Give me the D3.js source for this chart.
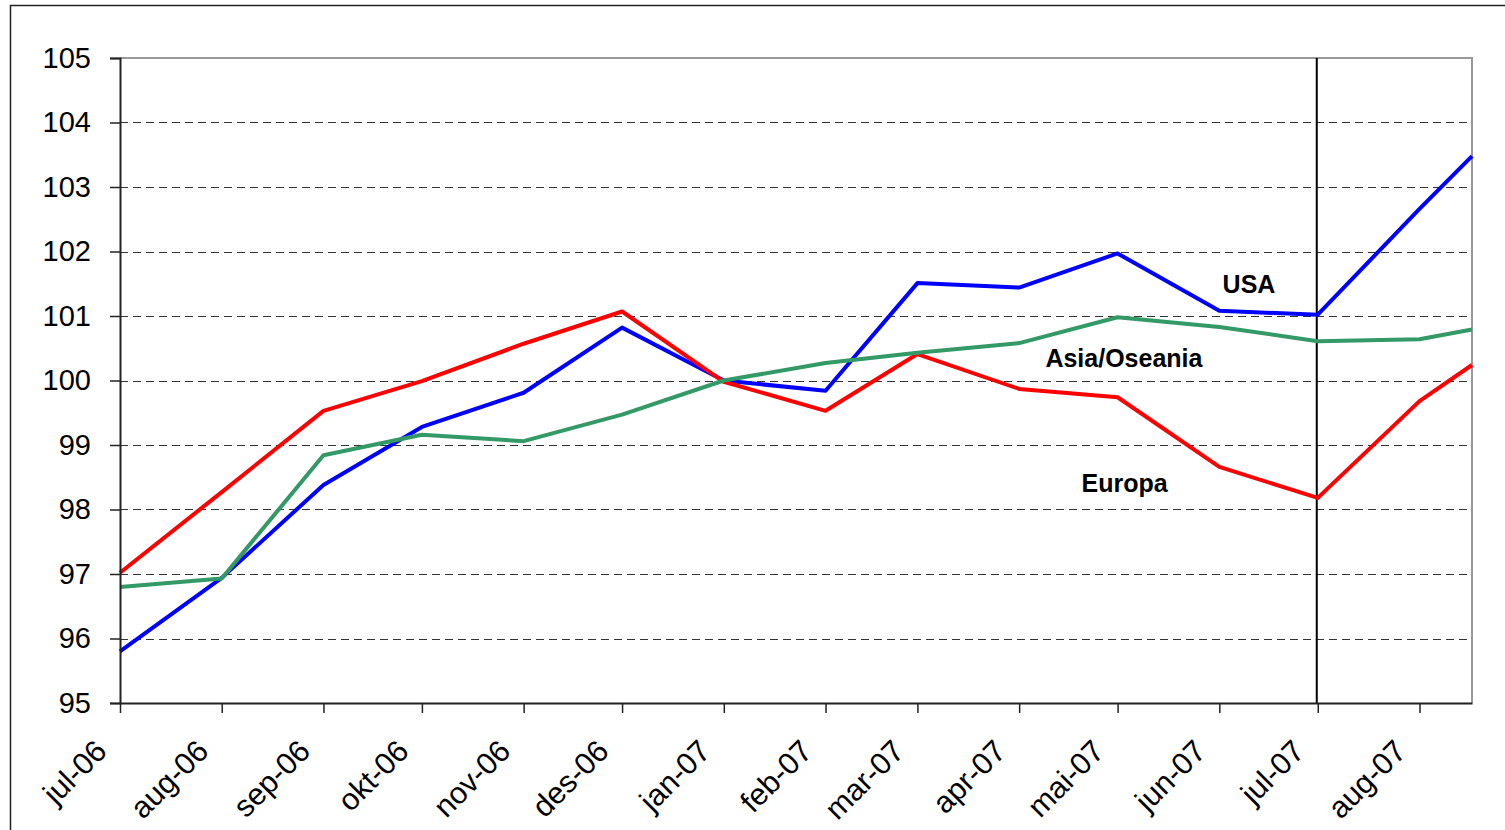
<!DOCTYPE html>
<html>
<head>
<meta charset="utf-8">
<script src="https://cdn.jsdelivr.net/npm/d3@7"></script>
<style>
  html, body { margin: 0; padding: 0; background: #fff; }
  svg { display: block; }
  text { font-family: "Liberation Sans", Arial, sans-serif; }
</style>
</head>
<body>
<svg id="chart" width="1505" height="830"></svg>
<script>
// ---- data ----
const monthLabels = ["jul-06","aug-06","sep-06","okt-06","nov-06","des-06","jan-07",
                     "feb-07","mar-07","apr-07","mai-07","jun-07","jul-07","aug-07"];
const dates = ["2006-07-01","2006-08-01","2006-09-01","2006-10-01","2006-11-01","2006-12-01",
               "2007-01-01","2007-02-01","2007-03-01","2007-04-01","2007-05-01","2007-06-01",
               "2007-07-01","2007-08-01","2007-08-17"];
const usa    = [95.80, 96.94, 98.38, 99.28, 99.81, 100.82, 100.00, 99.84, 101.51, 101.44, 101.97, 101.08, 101.02, 102.66, 103.48];
const europa = [97.02, 98.27, 99.53, 99.99, 100.57, 101.07, 99.98, 99.53, 100.41, 99.87, 99.74, 98.66, 98.18, 99.68, 100.24];
const asia   = [96.80, 96.93, 98.84, 99.16, 99.06, 99.47, 100.00, 100.27, 100.43, 100.58, 100.98, 100.83, 100.61, 100.64, 100.79];
const yTicks = [95, 96, 97, 98, 99, 100, 101, 102, 103, 104, 105];
const seriesNames = ["USA", "Asia/Oseania", "Europa"];
const markerDate = "2007-07-01";
// label anchors (date, value)
const labelPos = [["2007-06-02", 101.36], ["2007-04-09", 100.21], ["2007-04-20", 98.27]];

// ---- setup ----
const parse = s => { const [y, m, d] = s.split("-").map(Number); return new Date(y, m - 1, d); };
const dts = dates.map(parse);
const svg = d3.select("#chart");
const L = 120, R = 1472, T = 58, B = 703;

const x = d3.scaleTime().domain([dts[0], dts[dts.length - 1]]).range([L, R]);
const y = d3.scaleLinear().domain([95, 105]).range([B, T]);

// outer frame
svg.append("rect").attr("x", 10.5).attr("y", 5.5).attr("width", 1520).attr("height", 850)
  .attr("fill", "none").attr("stroke", "#222").attr("stroke-width", 1.5);

// gridlines
svg.append("g").selectAll("line").data(yTicks.filter(v => v > 95 && v < 105)).join("line")
  .attr("x1", L).attr("x2", R).attr("y1", d => Math.round(y(d)) + 0.5).attr("y2", d => Math.round(y(d)) + 0.5)
  .attr("stroke", "#333").attr("stroke-width", 1).attr("stroke-dasharray", "8,5");

// plot border top / right (gray)
svg.append("path").attr("d", `M${L},${T}H${R}V${B}`).attr("fill", "none")
  .attr("stroke", "#999").attr("stroke-width", 2);

// vertical marker at jul-07
svg.append("line").attr("x1", x(parse(markerDate)) - 1).attr("x2", x(parse(markerDate)) - 1)
  .attr("y1", T).attr("y2", B).attr("stroke", "#000").attr("stroke-width", 2);

// lines
const line = d3.line().x((d, i) => x(dts[i])).y(d => y(d));
const series = [[usa, "#0000FF"], [europa, "#FF0000"], [asia, "#339966"]];
svg.append("g").selectAll("path").data(series).join("path")
  .attr("d", d => line(d[0])).attr("fill", "none").attr("stroke", d => d[1])
  .attr("stroke-width", 4).attr("stroke-linejoin", "round");

// y axis
const yAxis = svg.append("g").attr("transform", `translate(${L},0)`)
  .call(d3.axisLeft(y).tickValues(yTicks).tickSize(10).tickPadding(19).tickFormat(d3.format("d")));
yAxis.select(".domain").attr("stroke", "#222").attr("stroke-width", 2);
yAxis.selectAll(".tick line").attr("stroke", "#222").attr("stroke-width", 1.5);
yAxis.selectAll("text").attr("font-size", 29).attr("fill", "#000")
  .attr("font-family", "Liberation Sans, Arial, sans-serif");

// x axis
const tickDates = dts.slice(0, monthLabels.length);
const xAxis = svg.append("g").attr("transform", `translate(0,${B})`)
  .call(d3.axisBottom(x).tickValues(tickDates).tickSize(10).tickSizeOuter(0)
    .tickFormat((d, i) => monthLabels[i]));
xAxis.select(".domain").attr("stroke", "#222").attr("stroke-width", 2);
xAxis.selectAll(".tick line").attr("stroke", "#222").attr("stroke-width", 1.5);
xAxis.selectAll("text").attr("font-size", 30.5).attr("fill", "#000")
  .attr("font-family", "Liberation Sans, Arial, sans-serif")
  .attr("text-anchor", "end").attr("dy", 0)
  .attr("transform", "translate(-12,50) rotate(-45)").attr("y", 0);

// series labels
svg.append("g").selectAll("text").data(seriesNames).join("text")
  .attr("x", (d, i) => x(parse(labelPos[i][0])))
  .attr("y", (d, i) => y(labelPos[i][1]))
  .attr("font-size", 25).attr("font-weight", "bold").attr("fill", "#000")
  .text(d => d);
</script>
</body>
</html>
